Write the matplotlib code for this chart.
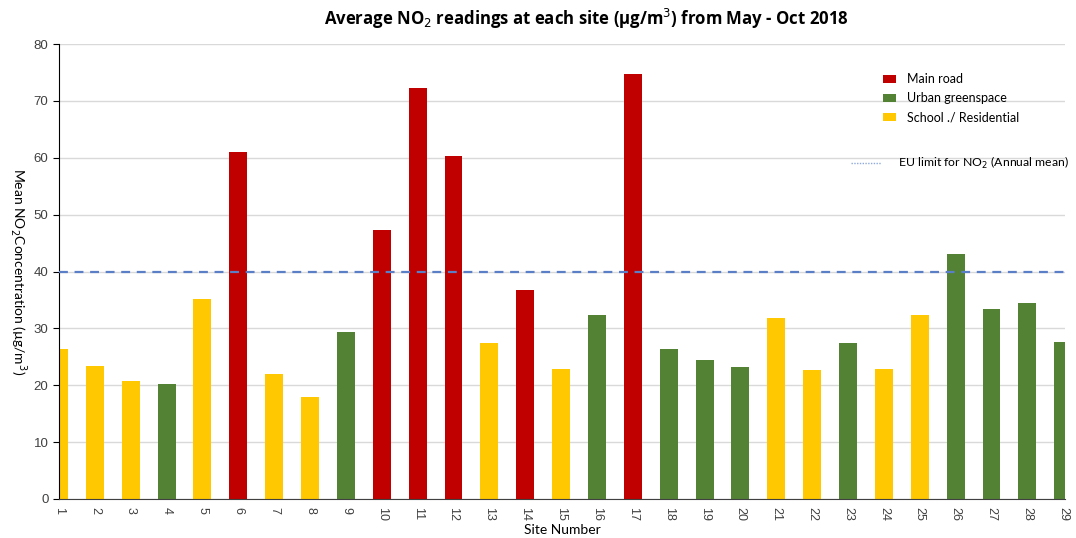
import matplotlib.pyplot as plt
from matplotlib.patches import Patch
from matplotlib.lines import Line2D

# Site readings (µg/m³), May - Oct 2018
sites = list(range(1, 30))
no2_mean = [26.4, 23.4, 20.7, 20.3, 35.1, 61.0, 22.0, 18.0, 29.3, 47.3,
            72.2, 60.3, 27.5, 36.7, 22.9, 32.3, 74.7, 26.3, 24.4, 23.2,
            31.9, 22.7, 27.4, 22.9, 32.4, 43.0, 33.4, 34.4, 27.6]
site_type = ['S', 'S', 'S', 'G', 'S', 'R', 'S', 'S', 'G', 'R',
             'R', 'R', 'S', 'R', 'S', 'G', 'R', 'G', 'G', 'G',
             'S', 'S', 'G', 'S', 'S', 'G', 'G', 'G', 'G']
type_labels = {'R': 'Main road', 'G': 'Urban greenspace', 'S': 'School ./ Residential'}
eu_limit = 40

colours = {'R': '#C00000', 'G': '#548235', 'S': '#FFC800'}

plt.rcParams['font.family'] = ['Liberation Sans', 'DejaVu Sans']

fig = plt.figure(figsize=(10.76, 5.38), dpi=100)
ax = fig.add_axes([0.0548, 0.0725, 0.935, 0.8457])

ax.bar(sites, no2_mean, width=0.5, color=[colours[t] for t in site_type], zorder=2)
ax.axhline(eu_limit, color='#5B7FC6', linestyle=(0, (4, 3)), linewidth=1.6, zorder=3)

ax.set_xlim(1, 29.05)
ax.set_ylim(0, 80)
ax.set_yticks(range(0, 90, 10))
ax.set_xticks(sites)
ax.set_xticklabels([str(s) for s in sites], rotation=-90, fontsize=9, color='#404040')
ax.tick_params(axis='x', length=0, pad=6)
ax.tick_params(axis='y', length=4, labelsize=9.5, labelcolor='#404040', direction='out')
ax.yaxis.grid(True, color='#D9D9D9', linewidth=1, zorder=0)
ax.set_axisbelow(True)

for s in ['top', 'right']:
    ax.spines[s].set_visible(False)
ax.spines['left'].set_color('black')
ax.spines['bottom'].set_color('#404040')

ax.set_xlabel('Site Number', family=['Lato', 'DejaVu Sans'], fontsize=10, labelpad=2)
ax.set_ylabel('Mean NO$_2$Concentration (µg/m$^3$)', family=['Lato', 'DejaVu Sans'],
              fontsize=10, rotation=270, va='center', ha='center')
ax.yaxis.set_label_coords(-0.04, 0.5)

fig.text(0.545, 0.965, 'Average NO$_2$ readings at each site (µg/m$^3$) from May - Oct 2018',
         ha='center', va='center', fontsize=12.1, fontweight='bold',
         family=['Open Sans', 'DejaVu Sans'])

handles = [Patch(facecolor=colours[k], label=type_labels[k]) for k in ['R', 'G', 'S']]
leg1 = ax.legend(handles=handles, loc='upper left', bbox_to_anchor=(0.808, 0.96),
                 frameon=False, handlelength=1.0, handleheight=0.6,
                 labelspacing=0.55, handletextpad=0.9,
                 prop={'family': ['Lato', 'DejaVu Sans'], 'size': 9})
ax.add_artist(leg1)
eu_handle = [Line2D([], [], color='#8EA9DB', linestyle=(0, (1, 1)), linewidth=1,
                    label='EU limit for NO$_2$ (Annual mean)')]
ax.legend(handles=eu_handle, loc='upper left', bbox_to_anchor=(0.776, 0.78),
          frameon=False, handlelength=2.5, handletextpad=1.4,
          prop={'family': ['Lato', 'DejaVu Sans'], 'size': 8.8})

fig.savefig('out.png', dpi=100)
